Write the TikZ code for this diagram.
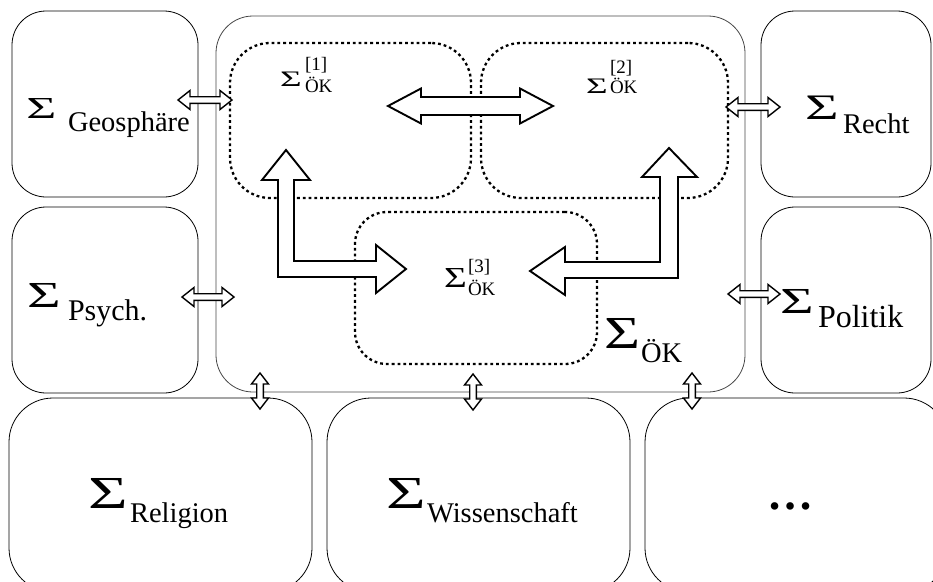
\documentclass[tikz,border=0pt]{standalone}
\usepackage{fontspec}
\setmainfont{Liberation Serif}
\usepackage{graphicx}
\newcommand\fs[1]{\fontsize{#1}{#1}\selectfont}
% sigma of given ink width and height (side bearings trimmed)
\newcommand\Sig[2]{\hspace{\dimexpr -#1pt/10\relax}\resizebox{\dimexpr #1pt*12/10\relax}{#2pt}{Σ}\hspace{\dimexpr -#1pt/10\relax}}
% horizontal double block arrow: style, x1, x2, y, shaft half, head half, head length
\newcommand\hdbl[7]{%
  \draw[#1] (#2,#4) -- ({#2+#7},{#4-#6}) -- ({#2+#7},{#4-#5}) -- ({#3-#7},{#4-#5})
    -- ({#3-#7},{#4-#6}) -- (#3,#4) -- ({#3-#7},{#4+#6}) -- ({#3-#7},{#4+#5})
    -- ({#2+#7},{#4+#5}) -- ({#2+#7},{#4+#6}) -- cycle;}
% vertical double block arrow: style, y1, y2, x, shaft half, head half, head length
\newcommand\vdbl[7]{%
  \draw[#1] (#4,#2) -- ({#4+#6},{#2+#7}) -- ({#4+#5},{#2+#7}) -- ({#4+#5},{#3-#7})
    -- ({#4+#6},{#3-#7}) -- (#4,#3) -- ({#4-#6},{#3-#7}) -- ({#4-#5},{#3-#7})
    -- ({#4-#5},{#2+#7}) -- ({#4-#6},{#2+#7}) -- cycle;}
\begin{document}
\begin{tikzpicture}[x=1pt,y=-1pt,
  sysbox/.style={draw=black, line width=0.8pt, rounded corners=#1, inner sep=0pt},
  sysbox/.default=34pt,
  subsys/.style={draw=black, line width=2.3pt, dash pattern=on 2.8pt off 3pt,
    rounded corners=#1, inner sep=0pt},
  subsys/.default=40pt,
  lbl/.style={anchor=base west, inner sep=0pt, outer sep=0pt},
  bigarr/.style={draw=black, fill=white, line width=1.9pt, line join=miter},
  smallarr/.style={draw=black, fill=white, line width=1.4pt, line join=miter}]
\useasboundingbox (0,0) rectangle (933,581);
\clip (0,0) rectangle (933,581);

% neighbouring systems
\node[sysbox, minimum width=186pt, minimum height=186pt] (geo) at (105,104) {};
\node[sysbox, minimum width=186pt, minimum height=186pt] (psy) at (105,300) {};
\node[sysbox, minimum width=170pt, minimum height=186pt] (recht) at (846,104) {};
\node[sysbox, minimum width=170pt, minimum height=186pt] (pol) at (846,300) {};
\node[sysbox=44pt, minimum width=303pt, minimum height=194pt] (rel) at (160.5,495) {};
\node[sysbox=44pt, minimum width=303pt, minimum height=194pt] (wiss) at (478.5,495) {};
\node[sysbox=44pt, minimum width=303pt, minimum height=194pt] (etc) at (796.5,495) {};

% the economic system with its three subsystems
\node[sysbox=37pt, draw=black!72, minimum width=529pt, minimum height=376pt] (ok) at (480.5,204) {};
\node[subsys, minimum width=241pt, minimum height=155pt] (ok1) at (350.5,120.5) {};
\node[subsys, minimum width=247pt, minimum height=155pt] (ok2) at (604.5,120.5) {};
\node[subsys=32pt, minimum width=242pt, minimum height=152pt] (ok3) at (476,288) {};

% labels
\node[lbl] (tgeo) at (29,118.3) {\Sig{25}{20}\hspace{14pt}\raisebox{-13.4pt}{\fs{28.5}Geosphäre}};
\node[lbl] (trecht) at (808,119.3) {\Sig{28}{23.5}\hspace{7pt}\raisebox{-13.7pt}{\fs{28.5}Recht}};
\node[lbl] (tpsy) at (30,307) {\Sig{28}{24}\hspace{10pt}\raisebox{-13pt}{\fs{30}Psych.}};
\node[lbl] (tpol) at (783,313) {\Sig{28}{24}\hspace{7pt}\raisebox{-14pt}{\fs{32}Politik}};
\node[lbl] (trel) at (92,508) {\Sig{33}{30}\hspace{5pt}\raisebox{-14pt}{\fs{28.5}Religion}};
\node[lbl] (twiss) at (390,508) {\Sig{33}{30}\hspace{4pt}\raisebox{-14pt}{\fs{28.5}Wissenschaft}};
\node[anchor=center, inner sep=0pt] (tetc) at (790,506) {\fs{46}\textbf{…}};
\node[lbl] (tok) at (607,348) {\Sig{30}{30}\hspace{4pt}\raisebox{-14pt}{\fs{28.5}ÖK}};
\node[lbl] (tok1) at (282,86) {\Sig{18}{14.5}\hspace{5pt}\rlap{\raisebox{16pt}{\fs{19}[1]}}\raisebox{-6.7pt}{\fs{19}ÖK}};
\node[lbl] (tok2) at (588,93) {\Sig{18}{14.5}\hspace{4pt}\rlap{\raisebox{20pt}{\fs{19}[2]}}\raisebox{0pt}{\fs{19}ÖK}};
\node[lbl] (tok3) at (446,287) {\Sig{19}{19}\hspace{3pt}\rlap{\raisebox{14.5pt}{\fs{19}[3]}}\raisebox{-8pt}{\fs{19}ÖK}};

% exchanges inside the economic system
\hdbl{bigarr}{388}{553}{106}{9}{17.5}{33}
\draw[bigarr] (286,150) -- (310,180) -- (294,180) -- (294,261) -- (376,261)
  -- (376,245) -- (406,269) -- (376,293) -- (376,277) -- (278,277)
  -- (278,180) -- (262,180) -- cycle;
\draw[bigarr] (669,148) -- (697,177) -- (678,177) -- (678,278) -- (565,278)
  -- (565,295) -- (530,271) -- (565,247) -- (565,262) -- (660,262)
  -- (660,177) -- (642,177) -- cycle;

% exchanges with the neighbouring systems
\hdbl{smallarr}{178}{232}{100}{3.3}{9.5}{12}
\hdbl{smallarr}{182}{234}{297}{3.3}{9.5}{12}
\hdbl{smallarr}{726}{780}{107}{3.3}{9.5}{12}
\hdbl{smallarr}{728}{780}{294}{3.3}{9.5}{12}
\vdbl{smallarr}{373}{409}{260}{3.3}{8.5}{11}
\vdbl{smallarr}{374}{410}{473}{3.3}{8.5}{11}
\vdbl{smallarr}{373}{409}{692}{3.3}{8.5}{11}
\end{tikzpicture}
\end{document}
